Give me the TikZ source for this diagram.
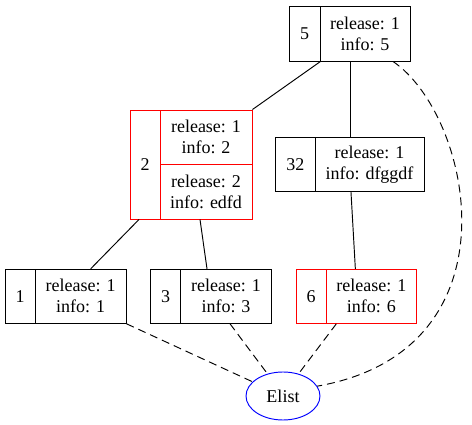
\documentclass[tikz,border=0pt]{standalone}
\usepackage{fontspec}
\setmainfont{Liberation Serif}
\usetikzlibrary{shapes.geometric}
\begin{document}
\begin{tikzpicture}[x=1pt,y=-1pt,
  cell/.style={draw=black,line width=0.95pt,inner sep=0pt,align=center,font=\fontsize{18}{21}\selectfont},
  redcell/.style={cell,draw=red},
  tree/.style={draw=black,line width=0.95pt},
  link/.style={draw=black,line width=0.95pt,dash pattern=on 8pt off 5pt}]
\useasboundingbox (0,0) rectangle (472,425);
% node 5
\node[cell,minimum width=31pt,minimum height=55pt] (n5L) at (304.5,33.5) {5};
\node[cell,minimum width=90pt,minimum height=55pt] (n5R) at (365,33.5) {release: 1\\info: 5};
% node 2
\node[redcell,minimum width=30pt,minimum height=109pt] (n2L) at (145,164.5) {2};
\node[redcell,minimum width=92pt,minimum height=54.5pt] (n2Rt) at (206,137.25) {release: 1\\info: 2};
\node[redcell,minimum width=92pt,minimum height=54.5pt] (n2Rb) at (206,191.75) {release: 2\\info: edfd};
% node 32
\node[cell,minimum width=39.3pt,minimum height=54.5pt] (n32L) at (295.35,164.5) {32};
\node[cell,minimum width=109pt,minimum height=54.5pt] (n32R) at (369.5,164.5) {release: 1\\info: dfggdf};
% node 1
\node[cell,minimum width=30.3pt,minimum height=54pt] (n1L) at (20.15,296.3) {1};
\node[cell,minimum width=90.7pt,minimum height=54pt] (n1R) at (80.65,296.3) {release: 1\\info: 1};
% node 3
\node[cell,minimum width=30pt,minimum height=54pt] (n3L) at (165.7,296.3) {3};
\node[cell,minimum width=90.6pt,minimum height=54pt] (n3R) at (226,296.3) {release: 1\\info: 3};
% node 6
\node[redcell,minimum width=30pt,minimum height=54pt] (n6L) at (311,296.3) {6};
\node[redcell,minimum width=90.7pt,minimum height=54pt] (n6R) at (371.35,296.3) {release: 1\\info: 6};
% Elist
\node[ellipse,draw=blue,line width=0.95pt,minimum width=74pt,minimum height=48pt,inner sep=0pt,font=\fontsize{18}{21}\selectfont] (el) at (283,396) {Elist};
% tree edges
\draw[tree] (n5L.south east) -- (n2Rt.north east);
\draw[tree] ([xshift=-15pt]n5R.south) -- ([xshift=-19.5pt]n32R.north);
\draw[tree] ([xshift=-6pt]n2L.south) -- ([xshift=10pt]n1R.north);
\draw[tree] ([xshift=-6pt]n2Rb.south) -- ([xshift=-19pt]n3R.north);
\draw[tree] ([xshift=-18.5pt]n32R.south) -- ([xshift=-16pt]n6R.north);
% list links
\draw[link] ([xshift=28pt]n5R.south) .. controls (472,115) and (522,350) .. (el.16);
\draw[link] (n1R.south east) -- (el.155);
\draw[link] ([xshift=4pt]n3R.south) -- (el.125);
\draw[link] ([xshift=-35pt]n6R.south) -- (el.55);
\end{tikzpicture}
\end{document}
